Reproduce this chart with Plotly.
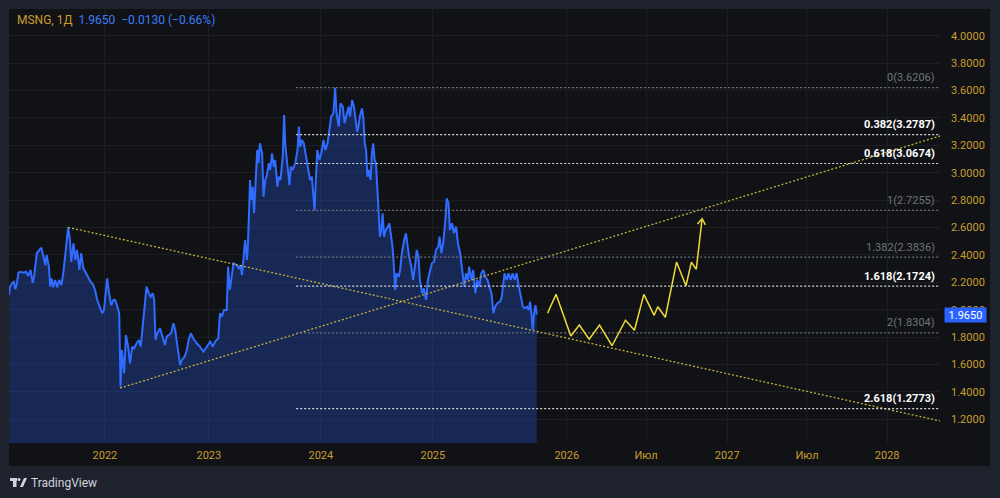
import math
import plotly.graph_objects as go

# ---------------- data ----------------
# x = bar index (trading days in history, calendar days in the projected part)
price_x = [0, 2, 7, 11, 14, 17, 21, 26, 32, 38, 43, 48, 53, 56, 62, 68, 72, 77, 81, 84, 89, 92, 95, 99, 103,
           108, 112, 117, 121, 126, 129, 132, 136, 139, 144, 148, 152, 157, 161, 166, 172, 177, 182, 187, 192,
           197, 203, 208, 212, 217, 219, 224, 228, 233, 237, 242, 246, 249, 252, 257, 261, 266, 270, 275, 279,
           285, 290, 294, 298, 303, 307, 312, 316, 321, 324, 327, 331, 337, 343, 348, 352, 356, 362, 367, 371,
           376, 382, 386, 392, 397, 401, 406, 411, 419, 426, 434, 441, 449, 455, 460, 467, 471, 475, 480, 486,
           489, 493, 498, 501, 508, 513, 517, 520, 525, 527, 531, 533, 536, 538, 541, 544, 547, 551, 554, 557,
           560, 565, 568, 572, 575, 580, 583, 587, 591, 594, 599, 602, 606, 611, 614, 617, 620, 623, 626, 629,
           633, 639, 644, 647, 650, 654, 658, 663, 667, 672, 676, 679, 682, 685, 688, 693, 697, 702, 706, 711,
           715, 719, 724, 728, 731, 736, 740, 745, 749, 754, 758, 761, 766, 770, 774, 777, 780, 783, 788, 791,
           794, 797, 800, 803, 807, 810, 813, 816, 819, 822, 825, 828, 831, 834, 837, 841, 846, 849, 853, 856,
           859, 862, 865, 870, 873, 877, 882, 886, 889, 893, 898, 902, 907, 910, 914, 917, 922, 926, 931, 935,
           940, 944, 949, 953, 958, 961, 965, 969, 974, 977, 981, 984, 989, 993, 998, 1002, 1007, 1011, 1016,
           1020, 1024, 1027, 1032, 1036, 1041, 1045, 1050, 1054, 1059, 1063, 1068, 1072, 1077, 1081, 1085,
           1090, 1096, 1100, 1103, 1106, 1111, 1115, 1120, 1124, 1129, 1133, 1138, 1142, 1147, 1151, 1156,
           1160, 1163, 1166, 1169, 1172, 1175, 1178]
price_y = [2.107, 2.164, 2.193, 2.204, 2.149, 2.180, 2.270, 2.277, 2.270, 2.277, 2.246, 2.290, 2.197, 2.241,
           2.412, 2.436, 2.453, 2.387, 2.326, 2.399, 2.314, 2.168, 2.229, 2.163, 2.217, 2.163, 2.217, 2.180,
           2.266, 2.412, 2.509, 2.601, 2.509, 2.350, 2.485, 2.363, 2.436, 2.290, 2.412, 2.302, 2.266, 2.229,
           2.204, 2.188, 2.144, 2.071, 2.022, 1.974, 1.998, 2.149, 2.229, 2.107, 2.034, 2.071, 2.071, 2.022,
           1.974, 1.438, 1.706, 1.536, 1.815, 1.730, 1.609, 1.730, 1.718, 1.755, 1.779, 1.730, 1.876, 2.071,
           2.168, 2.120, 2.095, 2.120, 2.071, 1.779, 1.828, 1.864, 1.803, 1.742, 1.803, 1.815, 1.828, 1.901,
           1.852, 1.730, 1.596, 1.633, 1.657, 1.706, 1.779, 1.828, 1.791, 1.755, 1.730, 1.693, 1.730, 1.767,
           1.730, 1.767, 1.791, 1.974, 1.949, 1.998, 1.998, 2.314, 2.144, 2.266, 2.339, 2.326, 2.302, 2.326,
           2.253, 2.436, 2.509, 2.363, 2.460, 2.728, 2.947, 2.801, 2.898, 2.704, 2.947, 3.166, 3.069, 3.215,
           3.142, 2.825, 2.947, 2.971, 3.069, 3.020, 3.142, 3.044, 3.093, 2.898, 2.971, 2.947, 3.117, 3.421,
           3.190, 3.069, 3.007, 2.910, 3.044, 3.020, 3.069, 3.166, 3.336, 3.190, 3.239, 3.215, 3.117, 3.069,
           2.947, 2.971, 2.825, 2.7255, 2.947, 3.166, 3.093, 3.142, 3.239, 3.166, 3.215, 3.336, 3.409, 3.434,
           3.6206, 3.434, 3.336, 3.506, 3.482, 3.361, 3.434, 3.482, 3.409, 3.531, 3.482, 3.361, 3.299, 3.336,
           3.409, 3.470, 3.397, 3.215, 3.166, 2.971, 3.020, 2.947, 3.142, 3.215, 3.093, 3.069, 2.874, 2.679,
           2.533, 2.582, 2.704, 2.533, 2.582, 2.606, 2.631, 2.533, 2.460, 2.314, 2.144, 2.266, 2.241, 2.290,
           2.412, 2.509, 2.558, 2.485, 2.387, 2.314, 2.217, 2.339, 2.436, 2.387, 2.217, 2.120, 2.156, 2.071,
           2.217, 2.290, 2.339, 2.351, 2.436, 2.460, 2.533, 2.412, 2.485, 2.655, 2.813, 2.777, 2.582, 2.631,
           2.558, 2.606, 2.485, 2.412, 2.314, 2.168, 2.266, 2.217, 2.314, 2.217, 2.290, 2.120, 2.217, 2.168,
           2.266, 2.290, 2.241, 2.217, 2.168, 2.120, 1.974, 2.022, 2.047, 2.059, 2.095, 2.193, 2.266, 2.217,
           2.266, 2.217, 2.266, 2.217, 2.266, 2.168, 2.095, 2.022, 2.010, 2.022, 1.998, 2.059, 1.974, 1.852,
           1.974, 2.034, 1.965]

symbol = "MSNG, 1Д"
last_price = 1.9650
change = -0.0130
change_pct = -0.66

forecast_x = [1202, 1221, 1254, 1273, 1295, 1318, 1346, 1376, 1396, 1417, 1440, 1448, 1465, 1490, 1511,
              1523, 1534, 1547]
forecast_y = [1.974, 2.112, 1.808, 1.888, 1.784, 1.888, 1.737, 1.923, 1.850, 2.112, 1.959, 2.022, 1.945,
              2.348, 2.175, 2.346, 2.295, 2.664]

trend_down_x = [132, 2100]
trend_down_y = [2.601, 1.172]
trend_up_x = [248, 2100]
trend_up_y = [1.428, 3.290]

fib_ratios = ["0", "0.382", "0.618", "1", "1.382", "1.618", "2", "2.618"]
fib_levels = [3.6206, 3.2787, 3.0674, 2.7255, 2.3836, 2.1724, 1.8304, 1.2773]
fib_bright = [False, True, True, False, False, True, False, True]
fib_start_x = 641
fib_end_x = 2100

time_tick_vals = [214, 446, 696, 946, 1245, 1422, 1603, 1781, 1960]
time_tick_text = ["2022", "2023", "2024", "2025", "2026", "Июл", "2027", "Июл", "2028"]
price_ticks = [1.2, 1.4, 1.6, 1.8, 2.0, 2.2, 2.4, 2.6, 2.8, 3.0, 3.2, 3.4, 3.6, 3.8, 4.0]

x_range = [0, 2078]
y_range = [1.027, 4.195]

# ---------------- style ----------------
W, H = 1000, 498
ML, MR, MT, MB = 9, 60, 9, 55
PW, PH = W - ML - MR, H - MT - MB
FRAME = "#1e222d"
PANE = "#111216"
GOLD = "#c99d2f"
BLUE = "#2f6cff"
FONT = "Roboto, 'Liberation Sans', sans-serif"


def px_x(p):
    return (p - ML) / PW


def px_y(p):
    return (H - MB - p) / PH


fig = go.Figure()

# price area
fig.add_trace(go.Scatter(x=price_x, y=price_y, mode="lines",
                         line=dict(color=BLUE, width=2), fill="tozeroy",
                         fillcolor="rgba(41,98,255,0.27)", hoverinfo="skip"))

# trend lines
for tx, ty in ((trend_down_x, trend_down_y), (trend_up_x, trend_up_y)):
    fig.add_trace(go.Scatter(x=tx, y=ty, mode="lines",
                             line=dict(color="#c2b13a", width=1.3, dash="2px,2px"),
                             hoverinfo="skip"))

# fibonacci levels
for r, lv, br in zip(fib_ratios, fib_levels, fib_bright):
    col = "#d6d8de" if br else "#6f727c"
    fig.add_trace(go.Scatter(x=[fib_start_x, fib_end_x], y=[lv, lv], mode="lines",
                             line=dict(color=col, width=1.2, dash="2px,2px"), hoverinfo="skip"))
    fig.add_annotation(xref="paper", yref="y", x=px_x(937), y=lv, xanchor="right",
                       yanchor="middle", yshift=10, showarrow=False,
                       text=(f"<b>{r}({lv:.4f})</b>" if br else f"{r}({lv:.4f})"),
                       font=dict(size=11, color=("#ffffff" if br else "#6f727c"), family=FONT))

# forecast path
fig.add_trace(go.Scatter(x=forecast_x, y=forecast_y, mode="lines",
                         line=dict(color="#eedb3a", width=1.5), hoverinfo="skip"))

# arrow head of the forecast path, derived from its last segment
ppx = PW / (x_range[1] - x_range[0])
ppy = PH / (y_range[1] - y_range[0])
dx = (forecast_x[-1] - forecast_x[-2]) * ppx
dy = (forecast_y[-1] - forecast_y[-2]) * ppy
ang = math.atan2(dy, dx)
wl = 7
wings_x, wings_y = [], []
for a in (ang + math.radians(145), None, ang - math.radians(145)):
    if a is None:
        wings_x.append(forecast_x[-1])
        wings_y.append(forecast_y[-1])
    else:
        wings_x.append(forecast_x[-1] + wl * math.cos(a) / ppx)
        wings_y.append(forecast_y[-1] + wl * math.sin(a) / ppy)
fig.add_trace(go.Scatter(x=wings_x, y=wings_y, mode="lines",
                         line=dict(color="#eedb3a", width=1.5), hoverinfo="skip"))

# pane background (plot + axes) over outer frame
fig.add_shape(type="rect", xref="paper", yref="paper", x0=px_x(9), x1=px_x(990),
              y0=px_y(466), y1=px_y(9), fillcolor=PANE, line=dict(width=0), layer="below")

# title / legend line
chg = f"{change:+.4f}".replace("-", "\u2212")
chgp = f"{change_pct:+.2f}%".replace("-", "\u2212")
fig.add_annotation(xref="paper", yref="paper", x=px_x(15), y=px_y(20), xanchor="left",
                   yanchor="middle", showarrow=False,
                   text=(f"<span style='color:{GOLD}'>{symbol}</span>  "
                         f"<span style='color:#3b7cf6'>{last_price:.4f}</span>  "
                         f"<span style='color:#3b7cf6'>{chg} ({chgp})</span>"),
                   font=dict(size=12, family=FONT))

# last price label
fig.add_annotation(xref="paper", yref="y", x=px_x(944), y=last_price, xanchor="left",
                   yanchor="middle", showarrow=False, text=f"{last_price:.4f}",
                   bgcolor="#2962ff", width=39, height=12, borderpad=1,
                   font=dict(size=11, color="#ffffff", family=FONT))

# TradingView logo + name
logo = dict(xref="paper", yref="paper", fillcolor="#d1d4dc", line=dict(width=0), layer="above")
fig.add_shape(type="rect", x0=px_x(10), x1=px_x(17), y0=px_y(481), y1=px_y(478), **logo)
fig.add_shape(type="rect", x0=px_x(13), x1=px_x(16.5), y0=px_y(487), y1=px_y(478), **logo)
fig.add_shape(type="circle", x0=px_x(17.5), x1=px_x(20.5), y0=px_y(481), y1=px_y(478), **logo)
fig.add_shape(type="path", path=(f"M {px_x(20)} {px_y(487)} L {px_x(24)} {px_y(478)} "
                                 f"L {px_x(27)} {px_y(478)} L {px_x(23)} {px_y(487)} Z"), **logo)
fig.add_annotation(xref="paper", yref="paper", x=px_x(29), y=px_y(483), xanchor="left",
                   yanchor="middle", showarrow=False, text="TradingView",
                   font=dict(size=12, color="#d1d4dc", family=FONT))

fig.update_layout(
    width=W, height=H, margin=dict(l=ML, r=MR, t=MT, b=MB, autoexpand=False),
    paper_bgcolor=FRAME, plot_bgcolor="rgba(0,0,0,0)", showlegend=False,
    font=dict(family=FONT, size=11, color=GOLD),
    xaxis=dict(range=x_range, tickmode="array", tickvals=time_tick_vals, ticktext=time_tick_text,
               showgrid=True, gridcolor="#1c1e24", gridwidth=1, zeroline=False, showline=False,
               ticks="", ticklabelstandoff=4, tickfont=dict(size=11, color=GOLD), automargin=False,
               fixedrange=True),
    yaxis=dict(range=y_range, side="right", tickmode="array", tickvals=price_ticks,
               ticktext=[f"{v:.4f}" for v in price_ticks],
               showgrid=True, gridcolor="#1c1e24", gridwidth=1, zeroline=False, showline=False,
               ticks="", ticklabelstandoff=10, tickfont=dict(size=11, color=GOLD), automargin=False,
               fixedrange=True),
)

fig.write_html("out.html")
